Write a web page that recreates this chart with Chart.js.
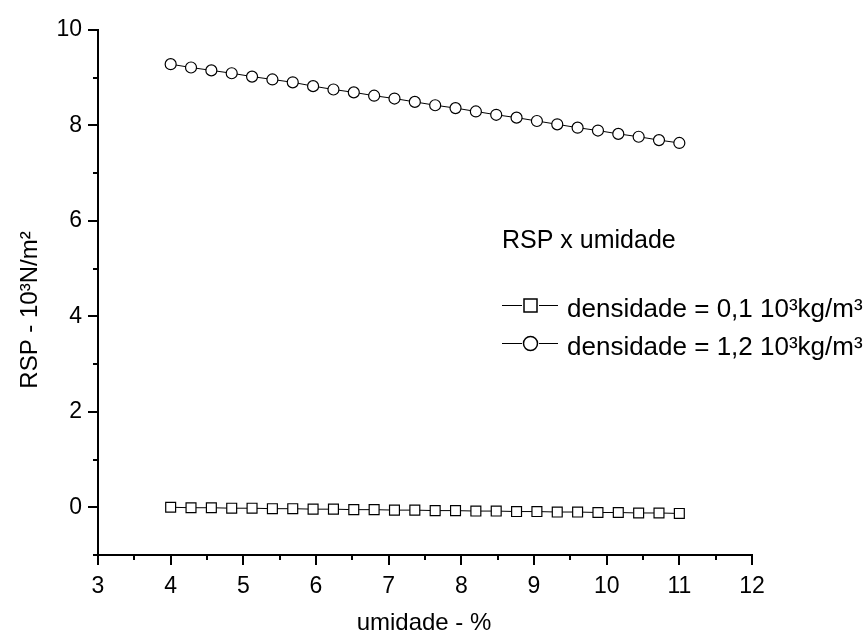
<!DOCTYPE html>
<html>
<head>
<meta charset="utf-8">
<script src="https://cdn.jsdelivr.net/npm/chart.js@4"></script>
<style>
  html, body { margin: 0; padding: 0; background: #fff; }
  #wrap { width: 865px; height: 635px; }
</style>
</head>
<body>
<div id="wrap"><canvas id="rsp"></canvas></div>
<script>
var umidade = [4, 4.28, 4.56, 4.84, 5.12, 5.4, 5.68, 5.96, 6.24, 6.52, 6.8, 7.08, 7.36,
               7.64, 7.92, 8.2, 8.48, 8.76, 9.04, 9.32, 9.6, 9.88, 10.16, 10.44, 10.72, 11];
var rspDens01 = [0.00, -0.01, -0.01, -0.02, -0.02, -0.03, -0.03, -0.04, -0.04, -0.05, -0.05, -0.06, -0.06,
                 -0.07, -0.07, -0.08, -0.08, -0.09, -0.09, -0.10, -0.10, -0.11, -0.11, -0.12, -0.12, -0.13];
var rspDens12 = [9.28, 9.21, 9.15, 9.09, 9.02, 8.96, 8.90, 8.82, 8.75, 8.69, 8.62, 8.56, 8.49,
                 8.42, 8.36, 8.29, 8.22, 8.16, 8.09, 8.02, 7.95, 7.89, 7.82, 7.76, 7.69, 7.63];
var seriesNames = ['densidade = 0,1 10³kg/m³', 'densidade = 1,2 10³kg/m³'];
var legendTitle = 'RSP x umidade';
var xTitle = 'umidade - %';
var yTitle = 'RSP - 10³N/m²';

var FONT = '"Liberation Sans", Arial, sans-serif';

function pts(ys) {
  return umidade.map(function (x, i) { return { x: x, y: ys[i] }; });
}

// tick marks (major + minor), axis titles and the in-plot legend
var extras = {
  id: 'extras',
  afterDraw: function (chart) {
    var ctx = chart.ctx;
    var xs = chart.scales.x, ys = chart.scales.y;
    var a = chart.chartArea;
    ctx.save();
    ctx.strokeStyle = '#000';
    ctx.lineWidth = 2;
    ctx.beginPath();
    for (var v = -1; v <= 10; v++) {
      var py = Math.round(ys.getPixelForValue(v));
      var len = (v % 2 === 0) ? 10 : 5;
      ctx.moveTo(a.left, py);
      ctx.lineTo(a.left - len, py);
    }
    for (var k = 6; k <= 24; k++) {
      var px = Math.round(xs.getPixelForValue(k / 2));
      var l2 = (k % 2 === 0) ? 10 : 5;
      ctx.moveTo(px, a.bottom);
      ctx.lineTo(px, a.bottom + l2);
    }
    ctx.stroke();

    // axis titles
    ctx.fillStyle = '#000';
    ctx.font = '24px ' + FONT;
    ctx.textAlign = 'center';
    ctx.textBaseline = 'alphabetic';
    ctx.fillText(xTitle, 424, 630);
    ctx.save();
    ctx.translate(37, 310);
    ctx.rotate(-Math.PI / 2);
    ctx.fillText(yTitle, 0, 0);
    ctx.restore();

    // legend
    ctx.textAlign = 'left';
    ctx.font = '25px ' + FONT;
    ctx.fillText(legendTitle, 502, 248);
    ctx.font = '26px ' + FONT;
    var rows = [305, 343];
    chart.data.datasets.forEach(function (ds, i) {
      var cy = rows[i];
      ctx.lineWidth = 1;
      ctx.strokeStyle = '#000';
      ctx.beginPath();
      ctx.moveTo(502, cy + 0.5); ctx.lineTo(522, cy + 0.5);
      ctx.moveTo(539, cy + 0.5); ctx.lineTo(558, cy + 0.5);
      ctx.stroke();
      ctx.lineWidth = 1.5;
      ctx.fillStyle = '#fff';
      ctx.beginPath();
      if (ds.pointStyle === 'rect') {
        ctx.rect(524, cy - 6, 13, 13);
      } else {
        ctx.arc(530.5, cy + 0.5, 7, 0, Math.PI * 2);
      }
      ctx.fill();
      ctx.stroke();
      ctx.fillStyle = '#000';
      ctx.fillText(seriesNames[i], 567, cy + 12);
    });
    ctx.restore();
  }
};

var ctx = document.getElementById('rsp');

var myChart = new Chart(ctx, {
  type: 'line',
  data: {
    datasets: [{
      label: seriesNames[0],
      data: pts(rspDens01),
      borderColor: '#000',
      borderWidth: 1,
      pointStyle: 'rect',
      pointRadius: 7,
      pointBorderWidth: 1.2,
      pointBackgroundColor: '#fff',
      pointBorderColor: '#000',
      tension: 0
    }, {
      label: seriesNames[1],
      data: pts(rspDens12),
      borderColor: '#000',
      borderWidth: 1,
      pointStyle: 'circle',
      pointRadius: 5.5,
      pointBorderWidth: 1.2,
      pointBackgroundColor: '#fff',
      pointBorderColor: '#000',
      tension: 0
    }]
  },
  options: {
    responsive: true,
    maintainAspectRatio: false,
    animation: false,
    layout: { padding: { top: 24, right: 113, left: 0, bottom: 0 } },
    plugins: {
      legend: { display: false },
      tooltip: { enabled: false }
    },
    scales: {
      x: {
        type: 'linear',
        min: 3,
        max: 12,
        afterFit: function (s) { s.height = 80; },
        border: { display: true, color: '#000', width: 2 },
        grid: { drawOnChartArea: false, drawTicks: false },
        ticks: {
          stepSize: 1,
          padding: 18,
          color: '#000',
          maxRotation: 0,
          font: { family: FONT, size: 23 }
        }
      },
      y: {
        min: -1,
        max: 10,
        afterFit: function (s) { s.width = 98; },
        border: { display: true, color: '#000', width: 2 },
        grid: { drawOnChartArea: false, drawTicks: false },
        ticks: {
          stepSize: 1,
          padding: 16,
          color: '#000',
          font: { family: FONT, size: 23 },
          callback: function (v) { return (v >= 0 && v % 2 === 0) ? v : ''; }
        }
      }
    }
  },
  plugins: [extras]
});
</script>
</body>
</html>
